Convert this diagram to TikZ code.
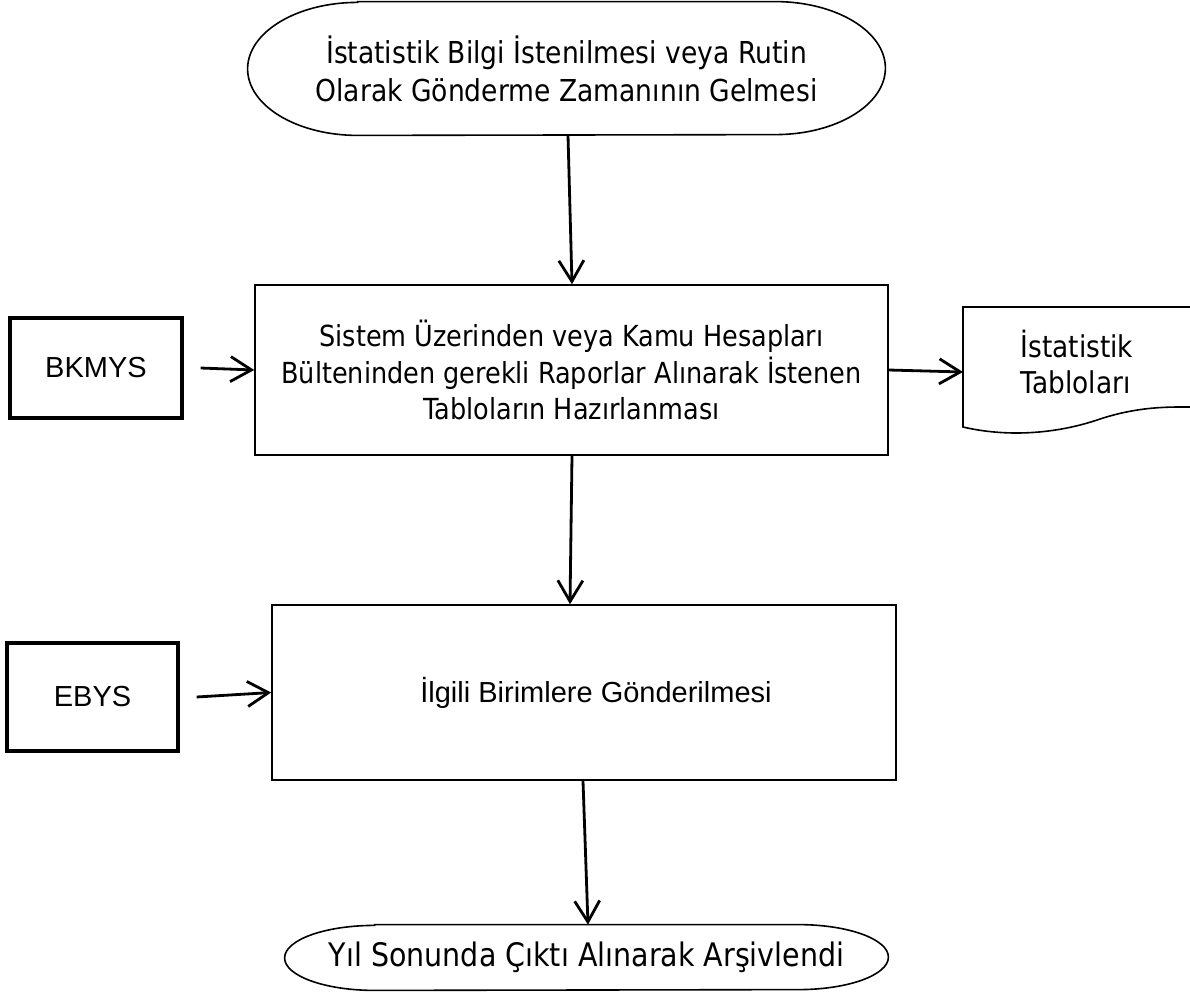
\documentclass[tikz,border=0pt]{standalone}
\usepackage{fontspec}
\setmainfont[FakeStretch=0.88]{DejaVu Sans}
\newfontfamily\arialf{Liberation Sans}
\usetikzlibrary{arrows.meta,calc}
\begin{document}
\begin{tikzpicture}[x=0.5pt,y=-0.5pt,
  arr/.style={line width=1.4pt,-{Straight Barb[length=10.5pt,width=12.5pt,line width=1.4pt]}},
  txt/.style={align=center},
  atxt/.style={font=\arialf\fontsize{14.5}{17}\selectfont, align=center},
  thin/.style={line width=0.8pt},
  thick3/.style={line width=1.6pt},
  boxn/.style={draw, thin, inner sep=0pt}]
\useasboundingbox (0,0) rectangle (1190,997);

% top terminal
\node[inner sep=0pt, minimum width=318.5pt, minimum height=66.5pt, txt, font=\fontsize{15.1}{19}\selectfont] (top) at (566.5,68.5)
  {İstatistik Bilgi İstenilmesi veya Rutin\\Olarak Gönderme Zamanının Gelmesi};
\draw[thin] ($(top.north west)+(55pt,0)$) -- ($(top.north east)+(-55pt,0)$)
  arc[start angle=90,end angle=-90,x radius=55pt,y radius=33.25pt]
  -- ($(top.south west)+(55pt,0)$)
  arc[start angle=270,end angle=90,x radius=55pt,y radius=33.25pt] -- cycle;

% main box 1
\node[boxn, minimum width=316.5pt, minimum height=85pt, txt, font=\fontsize{14.5}{18.25}\selectfont] (b1) at (571.5,370)
  {Sistem Üzerinden veya Kamu Hesapları\\Bülteninden gerekli Raporlar Alınarak İstenen\\Tabloların Hazırlanması};

% BKMYS
\node[draw, thick3, minimum width=86pt, minimum height=50pt, inner sep=0pt, atxt] (bk) at (96,368) {BKMYS};

% document
\node[inner sep=0pt, minimum width=113.5pt, minimum height=60pt, align=left, font=\fontsize{15}{18}\selectfont] (doc) at (1077,362)
  {İstatistik\\Tabloları};
\draw[thin] (1192,307) -- (963,307) -- (963,427)
  .. controls (1010,438) and (1060,433) .. (1100,419)
  .. controls (1140,406) and (1170,407) .. (1192,407);

% main box 2
\node[boxn, minimum width=312pt, minimum height=87.5pt, atxt] (b2) at (584,692.5)
  {\hspace*{12pt}İlgili Birimlere Gönderilmesi};

% EBYS
\node[draw, thick3, minimum width=85.5pt, minimum height=54pt, inner sep=0pt, atxt] (eb) at (92.5,697) {EBYS};

% bottom terminal
\node[inner sep=0pt, minimum width=301.5pt, minimum height=32.5pt, txt, font=\fontsize{16.2}{19}\selectfont] (bot) at (586.5,957.5)
  {Yıl Sonunda Çıktı Alınarak Arşivlendi};
\draw[thin] ($(bot.north west)+(45pt,0)$) -- ($(bot.north east)+(-45pt,0)$)
  arc[start angle=90,end angle=-90,x radius=45pt,y radius=16.25pt]
  -- ($(bot.south west)+(45pt,0)$)
  arc[start angle=270,end angle=90,x radius=45pt,y radius=16.25pt] -- cycle;

% connectors
\draw[arr] ([xshift=0.75pt]top.south) -- ([xshift=0.25pt]b1.north);
\draw[arr] ([xshift=0.25pt]b1.south) -- ([xshift=-7pt]b2.north);
\draw[arr] ([xshift=-0.5pt]b2.south) -- ([xshift=0.75pt]bot.north);
\draw[arr] ([xshift=8.5pt]bk.east) -- (b1.west);
\draw[arr] ([xshift=8.5pt]eb.east) -- (b2.west);
\draw[arr] (b1.east) -- (963,372);
\end{tikzpicture}
\end{document}
